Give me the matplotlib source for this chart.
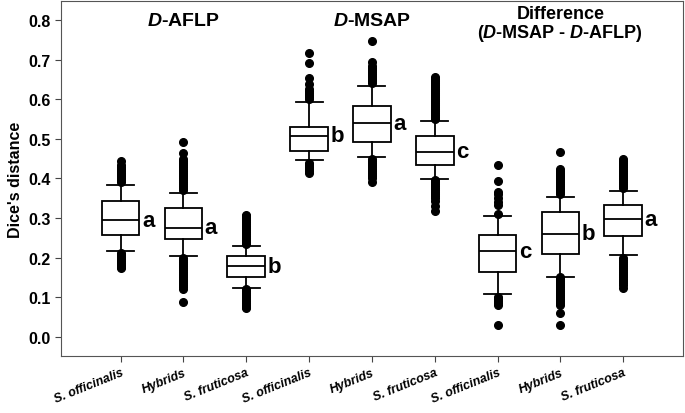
import numpy as np
import matplotlib
matplotlib.use("Agg")
import matplotlib.pyplot as plt

plt.rcParams["font.family"] = ["Liberation Sans", "DejaVu Sans"]
plt.rcParams["mathtext.fontset"] = "custom"
plt.rcParams["mathtext.bf"] = "Liberation Sans:bold"
plt.rcParams["mathtext.it"] = "Liberation Sans:italic"
plt.rcParams["mathtext.bfit"] = "Liberation Sans:italic:bold"

# box statistics (Dice's distance)
labels = ["S. officinalis", "Hybrids", "S. fruticosa"] * 3
q1 = [0.256, 0.246, 0.151, 0.470, 0.492, 0.433, 0.165, 0.210, 0.254]
med = [0.295, 0.276, 0.178, 0.508, 0.540, 0.467, 0.216, 0.260, 0.297]
q3 = [0.343, 0.326, 0.204, 0.531, 0.584, 0.506, 0.256, 0.315, 0.332]
whislo = [0.218, 0.204, 0.124, 0.446, 0.455, 0.399, 0.107, 0.152, 0.207]
whishi = [0.384, 0.364, 0.230, 0.593, 0.633, 0.545, 0.305, 0.354, 0.369]
letters = ["a", "a", "b", "b", "a", "c", "c", "b", "a"]

fliers = [
    [0.390, 0.395, 0.400, 0.405, 0.410, 0.415, 0.420, 0.425, 0.430, 0.435, 0.443,
     0.212, 0.207, 0.202, 0.197, 0.192, 0.187, 0.182, 0.177, 0.173],
    [0.370, 0.375, 0.380, 0.385, 0.390, 0.395, 0.400, 0.405, 0.410, 0.415, 0.420,
     0.425, 0.430, 0.435, 0.440, 0.445, 0.450, 0.465, 0.492,
     0.200, 0.195, 0.190, 0.185, 0.180, 0.175, 0.170, 0.165, 0.160, 0.155, 0.150,
     0.145, 0.140, 0.135, 0.130, 0.125, 0.120, 0.088],
    [0.235, 0.240, 0.245, 0.250, 0.255, 0.260, 0.265, 0.270, 0.275, 0.280, 0.285,
     0.290, 0.295, 0.300, 0.305, 0.308,
     0.120, 0.115, 0.110, 0.105, 0.100, 0.095, 0.090, 0.085, 0.080, 0.075, 0.072],
    [0.600, 0.605, 0.610, 0.615, 0.620, 0.626, 0.639, 0.653, 0.691, 0.716,
     0.440, 0.435, 0.430, 0.425, 0.420, 0.414],
    [0.640, 0.645, 0.650, 0.655, 0.660, 0.665, 0.670, 0.675, 0.680, 0.685, 0.694, 0.746,
     0.450, 0.445, 0.440, 0.435, 0.430, 0.425, 0.420, 0.415, 0.410, 0.405, 0.400, 0.392],
    [0.550, 0.555, 0.560, 0.565, 0.570, 0.575, 0.580, 0.585, 0.590, 0.595, 0.600,
     0.605, 0.610, 0.615, 0.620, 0.625, 0.630, 0.635, 0.640, 0.645, 0.650, 0.656,
     0.395, 0.390, 0.385, 0.380, 0.375, 0.370, 0.365, 0.360, 0.355, 0.350, 0.344,
     0.330, 0.319],
    [0.310, 0.332, 0.340, 0.350, 0.360, 0.367, 0.393, 0.435,
     0.100, 0.095, 0.090, 0.085, 0.080, 0.029],
    [0.360, 0.365, 0.370, 0.375, 0.380, 0.385, 0.390, 0.395, 0.400, 0.405, 0.410,
     0.415, 0.420, 0.425, 0.466,
     0.150, 0.145, 0.140, 0.135, 0.130, 0.125, 0.120, 0.115, 0.110, 0.105, 0.100,
     0.095, 0.090, 0.085, 0.080, 0.060, 0.030],
    [0.375, 0.380, 0.385, 0.390, 0.395, 0.400, 0.405, 0.410, 0.415, 0.420, 0.425,
     0.430, 0.435, 0.440, 0.445, 0.449,
     0.200, 0.195, 0.190, 0.185, 0.180, 0.175, 0.170, 0.165, 0.160, 0.155, 0.150,
     0.145, 0.140, 0.135, 0.130, 0.123],
]

stats = []
for i in range(9):
    stats.append({"med": med[i], "q1": q1[i], "q3": q3[i],
                  "whislo": whislo[i], "whishi": whishi[i], "fliers": fliers[i]})

fig = plt.figure(figsize=(6.85, 4.14), dpi=100)
ax = fig.add_axes([0.089, 0.138, 0.908, 0.857])

pos = np.arange(1, 10)
ax.bxp(stats, positions=pos, widths=0.6, capwidths=0.43, patch_artist=True,
       boxprops=dict(facecolor="white", edgecolor="black", linewidth=1.3),
       medianprops=dict(color="black", linewidth=1.3),
       whiskerprops=dict(color="black", linewidth=1.3),
       capprops=dict(color="black", linewidth=1.3),
       flierprops=dict(marker="o", markerfacecolor="black", markeredgecolor="black",
                       markersize=5.5, linestyle="none"))

for p, m, l in zip(pos, med, letters):
    ax.text(p + 0.34, m, l, ha="left", va="center", fontsize=16, fontweight="bold")

ax.text(2, 0.80, r"$\mathbfit{D}$-AFLP", ha="center", va="center",
        fontsize=14, fontweight="bold")
ax.text(5, 0.80, r"$\mathbfit{D}$-MSAP", ha="center", va="center",
        fontsize=14, fontweight="bold")
ax.text(8, 0.838, "Difference\n" + r"($\mathbfit{D}$-MSAP - $\mathbfit{D}$-AFLP)",
        ha="center", va="top", fontsize=13, fontweight="bold", linespacing=1.0)

ax.set_xlim(0.05, 9.95)
ax.set_ylim(-0.048, 0.848)
ax.set_yticks([0.0, 0.1, 0.2, 0.3, 0.4, 0.5, 0.6, 0.7, 0.8])
ax.set_yticklabels(["0.0", "0.1", "0.2", "0.3", "0.4", "0.5", "0.6", "0.7", "0.8"],
                   fontsize=11.5, fontweight="bold")
ax.set_xticks(pos)
ax.set_xticklabels(labels, rotation=22, ha="right", rotation_mode="anchor",
                   fontsize=9, fontweight="bold", fontstyle="italic")
ax.set_ylabel("Dice's distance", fontsize=11.5, fontweight="bold")
ax.tick_params(direction="out", length=4, color="#444444")
for s in ax.spines.values():
    s.set_color("#555555")

plt.savefig("out.png", dpi=100)
